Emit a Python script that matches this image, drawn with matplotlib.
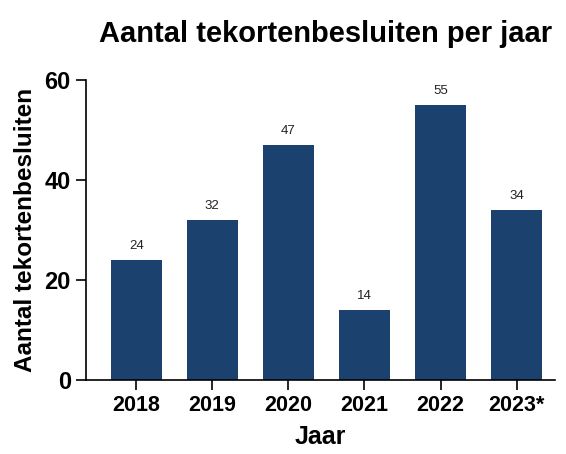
import matplotlib
matplotlib.use("Agg")
import matplotlib.pyplot as plt

years = ["2018", "2019", "2020", "2021", "2022", "2023*"]
values = [24, 32, 47, 14, 55, 34]
yticks = [0, 20, 40, 60]

plt.rcParams['font.family'] = ['Liberation Sans', 'DejaVu Sans']

fig = plt.figure(figsize=(5.66, 4.54), dpi=100)
ax = fig.add_axes([0.152, 0.163, 0.828, 0.661])
x = range(len(years))
bars = ax.bar(x, values, width=0.67, color="#1b416f")
for xi, v in zip(x, values):
    ax.text(xi, v + 1.5, str(v), ha="center", va="bottom", fontsize=9.5, color="#222222")

ax.set_xticks(list(x))
ax.set_xticklabels(years, fontsize=15.5, fontweight="bold")
ax.set_yticks(yticks)
ax.set_yticklabels([str(t) for t in yticks], fontsize=17, fontweight="bold")
ax.set_ylim(0, 60)
ax.set_xlim(-0.66, 5.5)
for s in ["top", "right"]:
    ax.spines[s].set_visible(False)
for s in ["left", "bottom"]:
    ax.spines[s].set_linewidth(1.2)
ax.tick_params(axis="both", direction="out", length=7, width=1.2, pad=4)
ax.set_xlabel("Jaar", fontsize=18, fontweight="bold", labelpad=6)
ax.set_ylabel("Aantal tekortenbesluiten", fontsize=17.5, fontweight="bold", labelpad=5)
fig.suptitle("Aantal tekortenbesluiten per jaar", fontsize=21, fontweight="bold", x=0.575, y=0.955)
fig.savefig("out.png", dpi=100)
